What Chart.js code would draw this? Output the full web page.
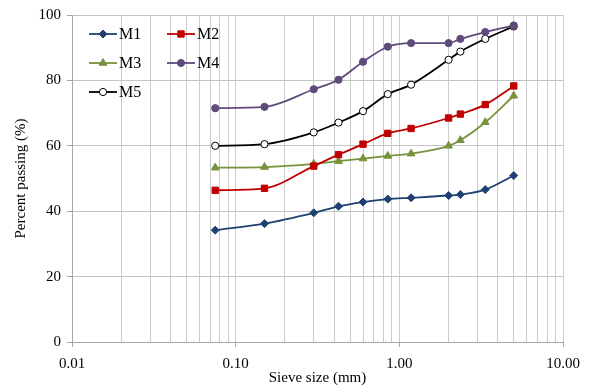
<!DOCTYPE html>
<html>
<head>
<meta charset="utf-8">
<script src="https://cdn.jsdelivr.net/npm/chart.js@4.4.1/dist/chart.umd.min.js"></script>
<style>
  html, body { margin: 0; padding: 0; background: #fff; }
  #wrap { width: 590px; height: 387px; position: relative; }
</style>
</head>
<body>
<div id="wrap"><canvas id="grading-chart"></canvas></div>
<script>
const sieveSizes = [0.075, 0.15, 0.3, 0.425, 0.6, 0.85, 1.18, 2.0, 2.36, 3.35, 5.0]

const m1 = [34.2, 36.2, 39.5, 41.5, 42.8, 43.7, 44.1, 44.8, 45.1, 46.6, 50.9]
const m2 = [46.4, 47.0, 53.8, 57.3, 60.5, 63.8, 65.3, 68.5, 69.7, 72.6, 78.3]
const m3 = [53.3, 53.5, 54.5, 55.3, 56.1, 56.9, 57.6, 60.0, 61.7, 67.2, 75.3]
const m4 = [71.5, 71.9, 77.3, 80.2, 85.7, 90.3, 91.4, 91.4, 92.7, 94.8, 96.8]
const m5 = [60.0, 60.5, 64.1, 67.1, 70.6, 75.8, 78.7, 86.3, 88.8, 92.7, 96.5]

const seriesNames = ['M1', 'M2', 'M3', 'M4', 'M5']
const yTicks = [0, 20, 40, 60, 80, 100]
const xLabels = [0.01, 0.1, 1, 10]

const serif = "'Liberation Serif', 'Times New Roman', serif"

function points (values) {
  return values.map(function (v, i) {
    return { x: sieveSizes[i], y: v }
  })
}

function series (label, values, color, style, radius, fill) {
  return {
    label: label,
    data: points(values),
    borderColor: color,
    backgroundColor: fill || color,
    pointBackgroundColor: fill || color,
    pointBorderColor: color,
    pointStyle: style,
    pointRadius: radius,
    pointBorderWidth: 1,
    borderWidth: 1.8,
    cubicInterpolationMode: 'monotone',
  }
}

const datasets = [
  series(seriesNames[0], m1, '#1F4170', 'rectRot', 4),
  series(seriesNames[1], m2, '#C00000', 'rect', 4.5),
  series(seriesNames[2], m3, '#77933C', 'triangle', 4.5),
  series(seriesNames[3], m4, '#604A7B', 'circle', 3.6),
  series(seriesNames[4], m5, '#000000', 'circle', 3.6, '#ffffff'),
]

// all minor log positions for the vertical grid
const xGrid = []
for (let p = -2; p <= 0; p++) {
  for (let k = 1; k <= 9; k++) {
    xGrid.push(Number((k * Math.pow(10, p)).toPrecision(3)))
  }
}
xGrid.push(10)

function isLabelled (v) {
  return xLabels.some(function (l) { return Math.abs(l - v) < 1e-9 })
}

// legend drawn inside the plot, two columns like the original
const insideLegend = {
  id: 'insideLegend',
  afterDraw: function (chart) {
    const ctx = chart.ctx
    const slots = [
      { x: 89, y: 34 }, { x: 167, y: 34 },
      { x: 89, y: 63 }, { x: 167, y: 63 },
      { x: 89, y: 92 },
    ]
    ctx.save()
    ctx.font = '16px ' + serif
    ctx.textBaseline = 'middle'
    ctx.textAlign = 'left'
    chart.data.datasets.forEach(function (ds, i) {
      const s = slots[i]
      ctx.strokeStyle = ds.borderColor
      ctx.lineWidth = 1.8
      ctx.beginPath()
      ctx.moveTo(s.x, s.y)
      ctx.lineTo(s.x + 28, s.y)
      ctx.stroke()
      ctx.fillStyle = ds.pointBackgroundColor
      ctx.lineWidth = 1
      Chart.helpers.drawPoint(ctx, {
        pointStyle: ds.pointStyle,
        radius: ds.pointRadius,
        borderWidth: 1,
        rotation: 0,
      }, s.x + 14, s.y)
      ctx.fillStyle = '#000'
      ctx.fillText(ds.label, s.x + 30, s.y + 1)
    })
    ctx.restore()
  },
}

const config = {
  type: 'line',
  data: { datasets: datasets },
  options: {
    responsive: true,
    maintainAspectRatio: false,
    animation: false,
    layout: { padding: { top: 10, right: 27, left: 0, bottom: 0 } },
    plugins: {
      legend: { display: false },
      tooltip: { enabled: false },
    },
    scales: {
      x: {
        type: 'logarithmic',
        min: 0.01,
        max: 10,
        afterBuildTicks: function (axis) {
          axis.ticks = xGrid.map(function (v) { return { value: v } })
        },
        afterFit: function (axis) { axis.height = 45 },
        ticks: {
          autoSkip: false,
          maxRotation: 0,
          color: '#000',
          font: { family: serif, size: 15 },
          padding: 8,
          callback: function (value) {
            return isLabelled(value) ? value.toFixed(2) : ''
          },
        },
        grid: {
          color: '#CCCCCC',
          tickLength: 5,
          tickColor: function (c) {
            return isLabelled(c.tick.value) ? '#A6A6A6' : 'rgba(0,0,0,0)'
          },
        },
        border: { color: '#A6A6A6', width: 1 },
        title: {
          display: true,
          text: 'Sieve size (mm)',
          color: '#000',
          font: { family: serif, size: 15 },
          padding: { top: 0, bottom: 0 },
        },
      },
      y: {
        min: 0,
        max: 100,
        afterBuildTicks: function (axis) {
          axis.ticks = yTicks.map(function (v) { return { value: v } })
        },
        afterFit: function (axis) { axis.width = 72 },
        ticks: {
          color: '#000',
          font: { family: serif, size: 15 },
          padding: 6,
        },
        grid: {
          color: '#C4C4C4',
          tickLength: 5,
          tickColor: '#A6A6A6',
        },
        border: { color: '#A6A6A6', width: 1 },
        title: {
          display: true,
          text: 'Percent passing (%)',
          color: '#000',
          font: { family: serif, size: 15 },
          padding: { top: 12, bottom: 0 },
        },
      },
    },
  },
  plugins: [insideLegend],
}

const ctx = document.getElementById('grading-chart').getContext('2d')
const gradingChart = new Chart(ctx, config)
</script>
</body>
</html>
